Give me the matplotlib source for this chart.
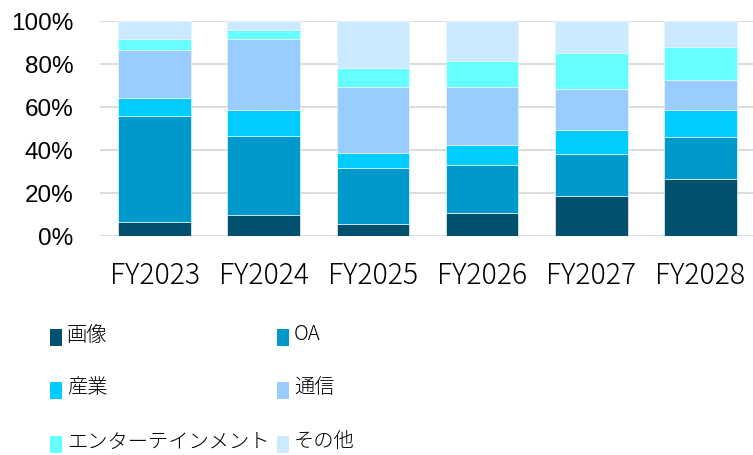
import matplotlib
matplotlib.use("Agg")
import matplotlib.pyplot as plt
from matplotlib.patches import Rectangle
import numpy as np

years = ["FY2023", "FY2024", "FY2025", "FY2026", "FY2027", "FY2028"]
categories = ["画像", "OA", "産業", "通信", "エンターテインメント", "その他"]
image_vals = [6.5, 10.0, 5.4, 10.9, 18.7, 26.4]
oa_vals = [49.4, 36.7, 26.4, 22.3, 19.5, 19.5]
industry_vals = [8.1, 11.9, 6.8, 9.3, 11.2, 12.8]
telecom_vals = [22.5, 32.8, 30.8, 26.9, 18.9, 13.9]
entertainment_vals = [5.0, 4.3, 8.7, 12.2, 16.7, 15.5]
other_vals = [8.5, 4.3, 21.9, 18.4, 15.0, 11.9]
y_ticks = [0, 20, 40, 60, 80, 100]
y_tick_labels = ["0%", "20%", "40%", "60%", "80%", "100%"]

series = [image_vals, oa_vals, industry_vals, telecom_vals, entertainment_vals, other_vals]
colors = ["#00506E", "#0099CC", "#00CCFF", "#99CCFF", "#66FFFF", "#CCEAFF"]

plt.rcParams['font.family'] = ['Noto Sans CJK JP', 'DejaVu Sans']

W, H = 753, 456
fig = plt.figure(figsize=(W / 100, H / 100), dpi=100)
ax = fig.add_axes([100 / W, 1 - 237 / H, 655 / W, 215 / H])

x = np.arange(len(years))
bottom = np.zeros(len(years))
for vals, c in zip(series, colors):
    v = np.array(vals, dtype=float)
    ax.bar(x, v, width=0.665, bottom=bottom, color=c, edgecolor="#e8f6fb",
           linewidth=0.5, zorder=3)
    bottom += v

ax.set_xlim(-0.5, len(years) - 0.5)
ax.set_ylim(0, 100)
ax.set_yticks(y_ticks)
ax.set_yticklabels(y_tick_labels, fontfamily="Liberation Sans", fontsize=17.5)
ax.set_xticks(x)
ax.set_xticklabels(years, fontsize=20.5, fontweight="light", color="#000000")
ax.tick_params(axis="both", length=0)
ax.tick_params(axis="y", pad=19)
ax.tick_params(axis="x", pad=17)
ax.grid(axis="y", color="#d9d9d9", linewidth=1.3, zorder=0)
ax.set_axisbelow(True)
for s in ax.spines.values():
    s.set_visible(False)

# legend: two columns, three rows
col_x = [50, 277]
row_y = [338, 391, 445]
for i, (cat, c) in enumerate(zip(categories, colors)):
    r, col = divmod(i, 2)
    mx = col_x[col]
    my = row_y[r]
    fig.add_artist(Rectangle((mx / W, 1 - (my + 8.5) / H), 12 / W, 17 / H,
                             transform=fig.transFigure, color=c, linewidth=0))
    fig.text((mx + 17) / W, 1 - (my - 3) / H, cat, fontsize=14.6,
             fontweight="light", va="center", ha="left", color="#000000")

fig.savefig("out.png", dpi=100)
